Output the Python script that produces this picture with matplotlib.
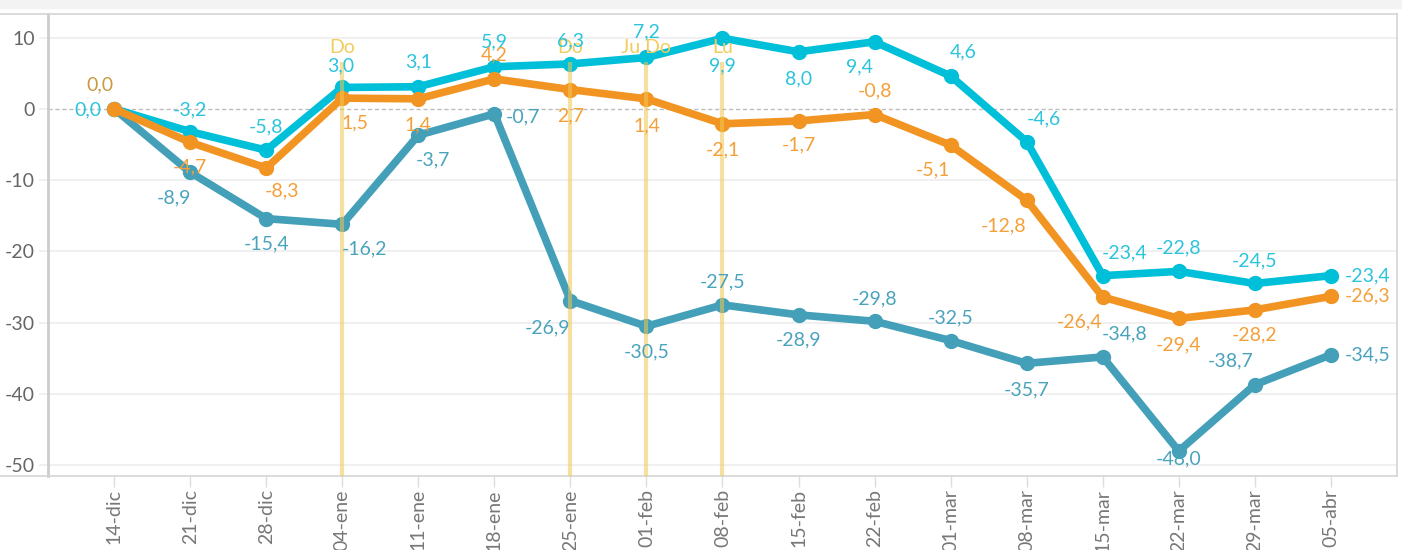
import matplotlib
matplotlib.use("Agg")
import matplotlib.pyplot as plt
from matplotlib.lines import Line2D
from matplotlib.patches import Rectangle

plt.rcParams['font.family'] = ['Lato', 'DejaVu Sans']
plt.rcParams['axes.unicode_minus'] = False

# ---------------- data ----------------
weeks = ["14-dic", "21-dic", "28-dic", "04-ene", "11-ene", "18-ene", "25-ene", "01-feb",
         "08-feb", "15-feb", "22-feb", "01-mar", "08-mar", "15-mar", "22-mar", "29-mar", "05-abr"]
serie_cyan = [0.0, -3.2, -5.8, 3.0, 3.1, 5.9, 6.3, 7.2, 9.9, 8.0, 9.4, 4.6, -4.6,
              -23.4, -22.8, -24.5, -23.4]
serie_orange = [0.0, -4.7, -8.3, 1.5, 1.4, 4.2, 2.7, 1.4, -2.1, -1.7, -0.8, -5.1, -12.8,
                -26.4, -29.4, -28.2, -26.3]
serie_teal = [0.0, -8.9, -15.4, -16.2, -3.7, -0.7, -26.9, -30.5, -27.5, -28.9, -29.8,
              -32.5, -35.7, -34.8, -48.0, -38.7, -34.5]
event_idx = [3, 6, 7, 8]
event_labels = ["Do", "Do", "Ju Do", "Lu"]
yticks = [10, 0, -10, -20, -30, -40, -50]

# ---------------- styles / label offsets (pixels) ----------------
C_CYAN, C_ORANGE, C_TEAL = "#00bfd8", "#f29422", "#449fb8"
L_CYAN, L_ORANGE, L_TEAL = "#2cc4dc", "#f4a03a", "#4aa3bd"
off_cyan = [(-26, -1), (0, 22), (0, 23), (-2, 22), (0, 25), (0, 25), (0, 23), (0, 26),
            (0, -28), (0, -27), (-15, -25), (13, 24), (17, 23), (22, 23), (0, 24), (0, 23), 'R']
off_orange = [(-14, 24), (0, -25), (16, -23), (13, -25), (0, -26), (0, 24), (0, -26), (0, -27),
              (0, -26), (0, -24), (0, 24), (-18, -25), (-23, -26), (-23, -25), (0, -26), (0, -25), 'R']
off_teal = [None, (-16, -26), (0, -25), (22, -25), (15, -25), 'R5', (-23, -27), (0, -26),
            (0, 23), (0, -25), (0, 22), (0, 23), (0, -27), (22, 23), (0, -8), (-24, 24), 'R']

FS = 14
W, H = 1402, 550
fig = plt.figure(figsize=(W / 100, H / 100), dpi=100)
fig.patches.append(Rectangle((0, 1 - 8 / H), 1, 8 / H, transform=fig.transFigure,
                             color="#f3f3f3", zorder=0))
left_px, right_px, top_px, bot_px = 48, 1397, 14, 476
ax = fig.add_axes([left_px / W, 1 - bot_px / H, (right_px - left_px) / W, (bot_px - top_px) / H])

x = list(range(len(weeks)))
ax.set_xlim(-0.87, len(weeks) - 1 + 0.87)
ax.set_ylim(-51.5, 13.3)

# grid
for t in yticks:
    if t == 0:
        ax.axhline(0, color="#bdbdbd", lw=1, ls=(0, (3, 2)), zorder=1)
    else:
        ax.axhline(t, color="#eeeeee", lw=1.2, zorder=1)

# series
for vals, col, z in [(serie_teal, C_TEAL, 3), (serie_cyan, C_CYAN, 4), (serie_orange, C_ORANGE, 5)]:
    ax.plot(x, vals, color=col, lw=5.5, marker='o', ms=10, zorder=z, solid_joinstyle='round')

# event lines
ylo = ax.get_ylim()[0]
for i, lab in zip(event_idx, event_labels):
    ax.vlines(i, ylo, 6.6, color="#f0c850", alpha=0.55, lw=3, zorder=7)
    ax.text(i, 8.55, lab, color="#f2cc5f", fontsize=FS, ha='center', va='center', zorder=8)

def fmt(v):
    return f"{v:.1f}".replace(".", ",")

def label_series(vals, offs, col):
    for i, (v, o) in enumerate(zip(vals, offs)):
        if o is None:
            continue
        if o == 'R':
            ax.annotate(fmt(v), (i, v), xytext=(14, 0), textcoords='offset pixels',
                        ha='left', va='center', color=col, fontsize=FS, zorder=9)
        elif o == 'R5':
            ax.annotate(fmt(v), (i, v), xytext=(11, -3), textcoords='offset pixels',
                        ha='left', va='center', color=col, fontsize=FS, zorder=9)
        else:
            c = col
            if vals is serie_orange and i == 0:
                c = "#c99a40"
            ax.annotate(fmt(v), (i, v), xytext=o, textcoords='offset pixels',
                        ha='center', va='center', color=c, fontsize=FS, zorder=9)

label_series(serie_teal, off_teal, L_TEAL)
label_series(serie_cyan, off_cyan, L_CYAN)
label_series(serie_orange, off_orange, L_ORANGE)

# axes styling
for s in ['top', 'right', 'bottom']:
    ax.spines[s].set_color("#d4d4d4")
    ax.spines[s].set_linewidth(1.2)
ax.spines['left'].set_color("#cccccc")
ax.spines['left'].set_linewidth(2)

ax.set_yticks(yticks)
ax.set_yticklabels([str(t) for t in yticks])
ax.tick_params(axis='y', length=6.5, color="#eeeeee", width=1.2, pad=3,
               labelsize=14, labelcolor="#666666")
ax.set_xticks(x)
ax.set_xticklabels(weeks, rotation=90)
ax.tick_params(axis='x', length=8, color="#dddddd", width=1, pad=1.5,
               labelsize=14, labelcolor="#777777")
for lbl in ax.get_xticklabels():
    lbl.set_va('top')

# left panel frame lines
fig.add_artist(Line2D([0, left_px / W], [1 - top_px / H] * 2, color="#d4d4d4", lw=1.2,
                      transform=fig.transFigure))
fig.add_artist(Line2D([0, left_px / W], [1 - bot_px / H] * 2, color="#d4d4d4", lw=1.2,
                      transform=fig.transFigure))

fig.savefig("out.png", dpi=100)
